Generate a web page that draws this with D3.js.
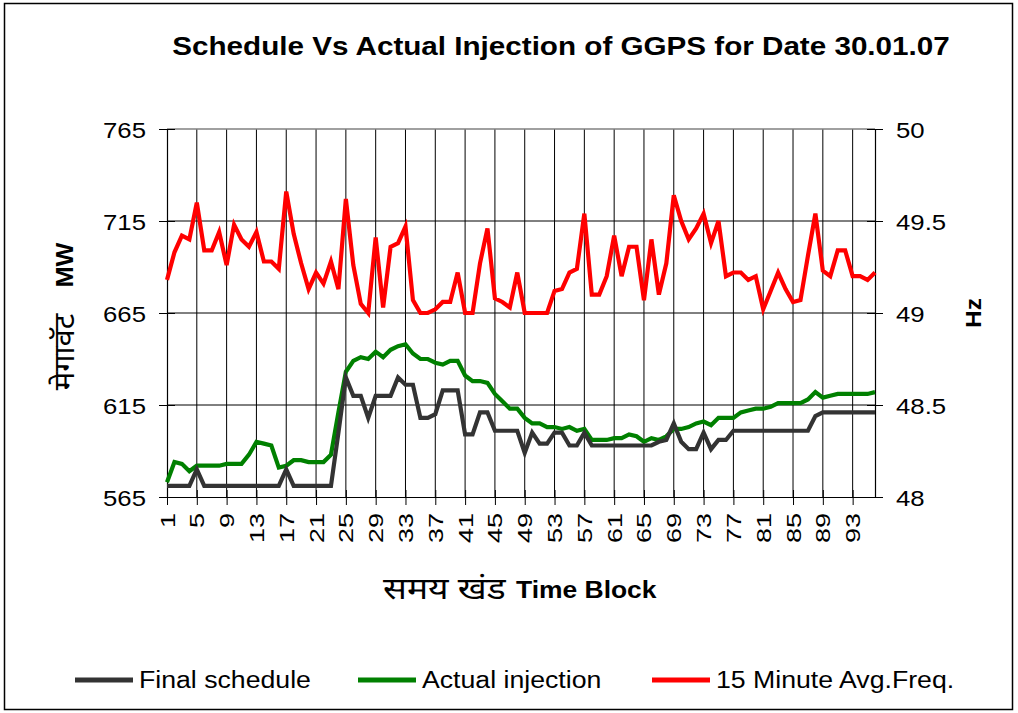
<!DOCTYPE html>
<html>
<head>
<meta charset="utf-8">
<script src="https://cdn.jsdelivr.net/npm/d3@7"></script>
<style>
  body { margin: 0; background: #fff; }
  text { font-family: "Liberation Sans", Arial, sans-serif; fill: #000; }
  .deva { font-family: "Noto Sans Devanagari", "Lohit Devanagari", "Mangal", "FreeSans", "Noto Sans", sans-serif; }
</style>
</head>
<body>
<svg id="chart" width="1018" height="713"></svg>
<script>
// Time blocks (15 minute blocks of the day)
var blocks = d3.range(1, 97);

// Final schedule, MW
var schedule = [571, 571, 571, 571, 580, 571, 571, 571, 571, 571, 571, 571, 571, 571, 571, 571,
  580, 571, 571, 571, 571, 571, 571, 600, 630, 620, 620, 608, 620, 620, 620, 630,
  626, 626, 608, 608, 610, 623, 623, 623, 599, 599, 611, 611, 601, 601, 601, 601,
  589, 600, 594, 594, 600, 600, 593, 593, 600, 593, 593, 593, 593, 593, 593, 593,
  593, 593, 595, 596, 605, 595, 591, 591, 600, 591, 596, 596, 601, 601, 601, 601,
  601, 601, 601, 601, 601, 601, 601, 609, 611, 611, 611, 611, 611, 611, 611, 611];

// Actual injection, MW
var actual = [573, 584, 583, 579, 582, 582, 582, 582, 583, 583, 583, 588, 595, 594, 593, 581,
  582, 585, 585, 584, 584, 584, 588, 611, 633, 639, 641, 640, 644, 641, 645, 647,
  648, 643, 640, 640, 638, 637, 639, 639, 631, 628, 628, 627, 621, 617, 613, 613,
  608, 605, 605, 603, 603, 602, 603, 601, 602, 596, 596, 596, 597, 597, 599, 598,
  595, 597, 596, 598, 602, 602, 603, 605, 606, 604, 608, 608, 608, 611, 612, 613,
  613, 614, 616, 616, 616, 616, 618, 622, 619, 620, 621, 621, 621, 621, 621, 622];

// 15 minute average frequency, Hz
var freq = [49.18, 49.33, 49.42, 49.40, 49.60, 49.34, 49.34, 49.44, 49.26, 49.48, 49.40, 49.36, 49.44, 49.28, 49.28, 49.24,
  49.66, 49.43, 49.27, 49.13, 49.22, 49.16, 49.28, 49.13, 49.62, 49.26, 49.05, 49.00, 49.41, 49.03, 49.36, 49.38,
  49.47, 49.07, 49.00, 49.00, 49.02, 49.06, 49.06, 49.22, 49.00, 49.00, 49.27, 49.46, 49.08, 49.06, 49.03, 49.22,
  49.00, 49.00, 49.00, 49.00, 49.12, 49.13, 49.22, 49.24, 49.54, 49.10, 49.10, 49.20, 49.42, 49.20, 49.36, 49.36,
  49.07, 49.40, 49.10, 49.27, 49.64, 49.50, 49.40, 49.46, 49.54, 49.38, 49.50, 49.20, 49.22, 49.22, 49.18, 49.20,
  49.02, 49.12, 49.22, 49.13, 49.06, 49.07, 49.31, 49.54, 49.23, 49.20, 49.34, 49.34, 49.20, 49.20, 49.18, 49.22];

var mwTicks = [565, 615, 665, 715, 765];
var hzTicks = [48, 48.5, 49, 49.5, 50];
var blockTicks = [1, 5, 9, 13, 17, 21, 25, 29, 33, 37, 41, 45, 49, 53, 57, 61, 65, 69, 73, 77, 81, 85, 89, 93];

var seriesNames = ["Final schedule", "Actual injection", "15 Minute Avg.Freq."];
var seriesColors = ["#333333", "#008000", "#ff0000"];

// Placement of the plot area
var pLeft = 167, pRight = 875, pTop = 129, pBottom = 497;

var svg = d3.select("#chart");

// outer frame
svg.append("rect")
  .attr("x", 4.5).attr("y", 3.5)
  .attr("width", 1008).attr("height", 706)
  .attr("fill", "#fff").attr("stroke", "#000").attr("stroke-width", 1.5);

var x = d3.scaleLinear().domain([1, 96]).range([pLeft, pRight]);
var yMW = d3.scaleLinear().domain([565, 765]).range([pBottom, pTop]);
var yHz = d3.scaleLinear().domain([48, 50]).range([pBottom, pTop]);

// horizontal text, stretched a little like the original
function hText(px, py, str, size, anchor, weight, sx) {
  return svg.append("text")
    .attr("transform", "translate(" + px + "," + py + ") scale(" + (sx || 1.14) + ",1)")
    .attr("text-anchor", anchor)
    .style("font-size", size + "px")
    .style("font-weight", weight || "normal")
    .text(str);
}

// title
hText(561, 55, "Schedule Vs Actual Injection of GGPS for Date 30.01.07", 26, "middle", "bold", 1.14);

// gridlines
svg.append("g").selectAll("line")
  .data(blockTicks.slice(1))
  .enter().append("line")
  .attr("x1", function(d) { return x(d); }).attr("x2", function(d) { return x(d); })
  .attr("y1", pTop).attr("y2", pBottom)
  .attr("stroke", "#000").attr("stroke-width", 1);

svg.append("g").selectAll("line")
  .data(mwTicks.slice(1, 4))
  .enter().append("line")
  .attr("x1", pLeft).attr("x2", pRight)
  .attr("y1", function(d) { return yMW(d); }).attr("y2", function(d) { return yMW(d); })
  .attr("stroke", "#000").attr("stroke-width", 1);

svg.append("line")
  .attr("x1", pLeft).attr("x2", pRight).attr("y1", pTop).attr("y2", pTop)
  .attr("stroke", "#808080").attr("stroke-width", 1.5);

// left axis
var axL = svg.append("g")
  .attr("transform", "translate(" + pLeft + ",0)")
  .call(d3.axisLeft(yMW).tickValues(mwTicks).tickSize(8).tickFormat(d3.format("d")));
axL.selectAll(".tick").append("line").attr("x2", 8).attr("stroke", "#000");
axL.selectAll("text")
  .attr("x", null).attr("dy", null)
  .attr("transform", "translate(-21,8) scale(1.12,1)")
  .style("font-size", "23px").style("font-family", "Liberation Sans, Arial, sans-serif");

// right axis
var axR = svg.append("g")
  .attr("transform", "translate(" + pRight + ",0)")
  .call(d3.axisRight(yHz).tickValues(hzTicks).tickSize(8).tickFormat(function(d) { return String(d); }));
axR.selectAll(".tick").append("line").attr("x2", -8).attr("stroke", "#000");
axR.selectAll("text")
  .attr("x", null).attr("dy", null)
  .attr("transform", "translate(21,8) scale(1.12,1)")
  .style("font-size", "23px").style("font-family", "Liberation Sans, Arial, sans-serif");

// bottom axis
var axB = svg.append("g")
  .attr("transform", "translate(0," + pBottom + ")")
  .call(d3.axisBottom(x).tickValues(blockTicks).tickSize(8).tickSizeOuter(0).tickFormat(d3.format("d")));
axB.selectAll(".tick").append("line").attr("y2", -7).attr("stroke", "#000");
axB.selectAll("text")
  .attr("y", null).attr("dy", null)
  .attr("text-anchor", "end")
  .attr("transform", "translate(7,16) rotate(-90) scale(1.35,1)")
  .style("font-size", "20px").style("font-family", "Liberation Sans, Arial, sans-serif");
[axL, axR, axB].forEach(function(a) {
  a.select(".domain").attr("stroke", "#000").attr("stroke-width", 1.2);
});

// series lines
function drawLine(values, yScale, color) {
  svg.append("path")
    .datum(values)
    .attr("fill", "none")
    .attr("stroke", color)
    .attr("stroke-width", 4.2)
    .attr("stroke-linejoin", "miter")
    .attr("d", d3.line()
      .x(function(d, i) { return x(blocks[i]); })
      .y(function(d) { return yScale(d); }));
}
drawLine(freq, yHz, seriesColors[2]);
drawLine(actual, yMW, seriesColors[1]);
drawLine(schedule, yMW, seriesColors[0]);

// axis titles
svg.append("text")
  .attr("class", "deva")
  .attr("transform", "translate(383,599) scale(1.18,1)")
  .style("font-size", "30px")
  .text("समय खंड");
hText(516, 598, "Time Block", 23, "start", "bold", 1.15);

svg.append("text")
  .attr("class", "deva")
  .attr("transform", "translate(74,352) rotate(-90) scale(1.1,1)")
  .attr("text-anchor", "middle")
  .style("font-size", "28px")
  .text("मेगावॅट");
svg.append("text")
  .attr("transform", "translate(73,265) rotate(-90) scale(1.1,1)")
  .attr("text-anchor", "middle")
  .style("font-size", "23px").style("font-weight", "bold")
  .text("MW");

svg.append("text")
  .attr("transform", "translate(981,313) rotate(-90) scale(1.1,1)")
  .attr("text-anchor", "middle")
  .style("font-size", "22px").style("font-weight", "bold")
  .text("Hz");

// legend
var legendX = [75, 358, 652];
seriesNames.forEach(function(name, i) {
  svg.append("line")
    .attr("x1", legendX[i]).attr("x2", legendX[i] + 58)
    .attr("y1", 680).attr("y2", 680)
    .attr("stroke", seriesColors[i]).attr("stroke-width", 5);
  hText(legendX[i] + 64, 688, name, 23, "start", "normal", 1.16);
});
</script>
</body>
</html>
